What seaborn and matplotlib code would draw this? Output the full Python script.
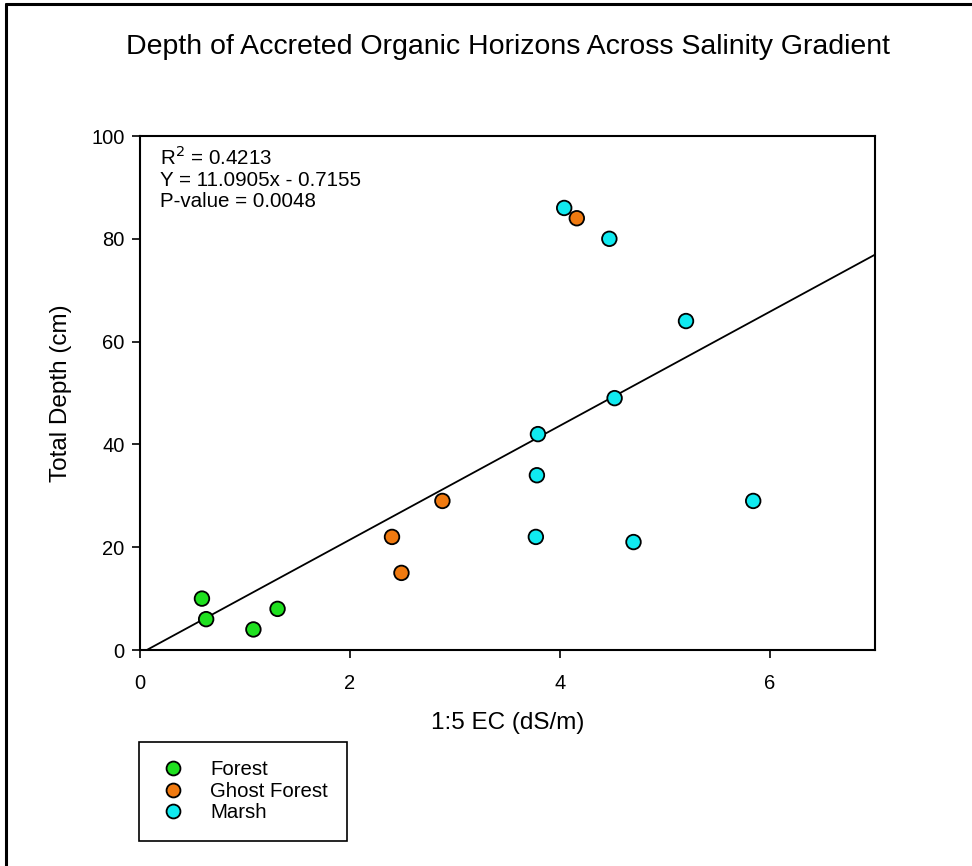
import numpy as np
import pandas as pd
import matplotlib
matplotlib.use("Agg")
import matplotlib.pyplot as plt
from matplotlib.lines import Line2D
import seaborn as sns

# ---- data ----
forest_x = [0.59, 0.63, 1.08, 1.31]
forest_y = [10, 6, 4, 8]
ghost_x = [2.40, 2.49, 2.88, 4.16]
ghost_y = [22, 15, 29, 84]
marsh_x = [4.04, 4.47, 5.20, 4.52, 3.79, 3.78, 3.77, 4.70, 5.84]
marsh_y = [86, 80, 64, 49, 42, 34, 22, 21, 29]
groups = ["Forest", "Ghost Forest", "Marsh"]
colors = ["#1fe01f", "#f07a10", "#10eaf0"]
slope = 11.0905
intercept = -0.7155
r2_text = "0.4213"
p_text = "0.0048"
x_ticks = [0, 2, 4, 6]
y_ticks = [0, 20, 40, 60, 80, 100]

df = pd.DataFrame({
    "x": forest_x + ghost_x + marsh_x,
    "y": forest_y + ghost_y + marsh_y,
    "group": ["Forest"] * len(forest_x) + ["Ghost Forest"] * len(ghost_x) + ["Marsh"] * len(marsh_x),
})

sns.set_style("white")
plt.rcParams["font.family"] = ["Liberation Sans", "DejaVu Sans"]
plt.rcParams["text.color"] = "black"
plt.rcParams["axes.labelcolor"] = "black"
plt.rcParams["xtick.color"] = "black"
plt.rcParams["ytick.color"] = "black"

W, H = 972, 866
fig = plt.figure(figsize=(W / 100, H / 100), dpi=100)
ax = fig.add_axes([140 / W, 1 - 650 / H, (875 - 140) / W, (650 - 136) / H])

# regression line
x0 = -intercept / slope
xl = np.array([x0, 7.0])
ax.plot(xl, slope * xl + intercept, color="black", lw=1.3, zorder=2)

sns.scatterplot(data=df, x="x", y="y", hue="group", hue_order=groups,
                palette=colors, s=110, edgecolor="black", linewidth=1.3,
                ax=ax, zorder=3, legend=False)

ax.set_xlim(0, 7)
ax.set_ylim(0, 100)
ax.set_xticks(x_ticks)
ax.set_yticks(y_ticks)
ax.tick_params(direction="out", length=6, width=1.2, labelsize=14.5, colors="black",
               bottom=True, left=True)
ax.tick_params(axis="x", pad=11)
ax.tick_params(axis="y", pad=5)
for sp in ax.spines.values():
    sp.set_linewidth(1.5)
    sp.set_color("black")
ax.set_xlabel("1:5 EC (dS/m)", fontsize=17.5, labelpad=14)
ax.set_ylabel("Total Depth (cm)", fontsize=17.5, labelpad=14)

ax.text(0.027, 0.982, "R$^2$ = " + r2_text + "\nY = " + f"{slope:.4f}x - {abs(intercept):.4f}" +
        "\nP-value = " + p_text, transform=ax.transAxes, fontsize=14.8,
        va="top", ha="left", linespacing=1.13)

fig.text((140 + 875) / 2 / W, 1 - 47 / H,
         "Depth of Accreted Organic Horizons Across Salinity Gradient",
         ha="center", va="center", fontsize=20.5)

handles = [Line2D([], [], marker="o", ls="none", markersize=10,
                  markerfacecolor=c, markeredgecolor="black", markeredgewidth=1.3)
           for c in colors]
leg = fig.legend(handles, groups, loc="upper left",
                 bbox_to_anchor=(139 / W, 1 - 742 / H), bbox_transform=fig.transFigure,
                 borderaxespad=0, frameon=True, fancybox=False, fontsize=14.7,
                 borderpad=0.9, labelspacing=0.12, handletextpad=1.1,
                 handlelength=1.5)
fr = leg.get_frame()
fr.set_edgecolor("black")
fr.set_linewidth(1.2)
fr.set_alpha(1)

# figure border (left and top)
fig.add_artist(Line2D([6 / W, 6 / W], [0, 1 - 4 / H], transform=fig.transFigure, color="black", lw=2.2))
fig.add_artist(Line2D([6 / W, 1], [1 - 4 / H, 1 - 4 / H], transform=fig.transFigure, color="black", lw=2.2))

fig.savefig("out.png", dpi=100)
